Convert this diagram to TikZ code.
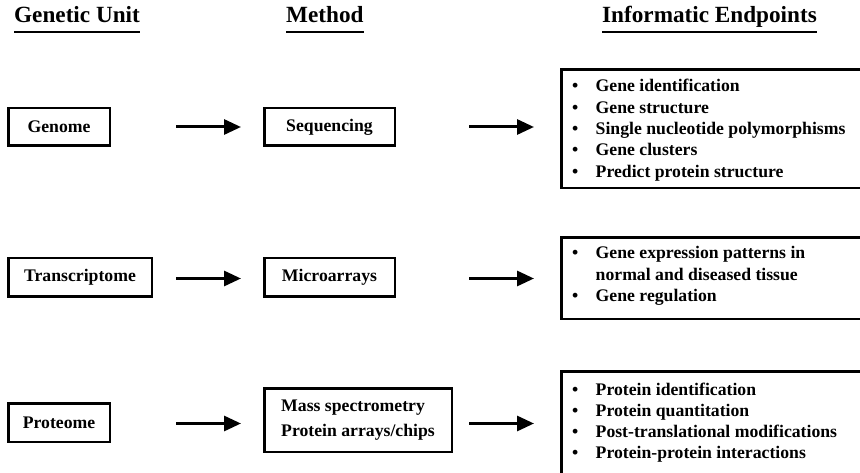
\documentclass[tikz,border=0pt]{standalone}
\usepackage{fontspec}
\setmainfont{Liberation Serif}
\usepackage{xcolor}
\usepackage{tikz}
\usetikzlibrary{arrows.meta}
\definecolor{Ink}{HTML}{000000}
\tikzset{
  unit/.style={
    draw=Ink, line width=2.5pt, inner sep=0pt,
    font=\bfseries\fontsize{17.7}{21.3}\selectfont
  },
  endbox/.style={draw=Ink,line width=2.5pt,inner sep=0pt,anchor=north west,minimum width=400pt},
  head/.style={font=\bfseries\fontsize{23.2}{28}\selectfont,inner sep=0pt,anchor=base west},
  uline/.style={line width=2.7pt,draw=Ink},
  arr/.style={-{Triangle[length=17pt,width=15pt]},line width=3pt,draw=Ink},
  list/.style={font=\bfseries\fontsize{17.7}{21.3}\selectfont,inner sep=0pt,anchor=base west}
}
\newcommand{\itm}[1]{\makebox[23.5pt][l]{\textbullet}#1}
\newcommand{\itmgap}{\hspace*{23.5pt}}

\begin{document}
\begin{tikzpicture}[x=1pt,y=-1pt]
  \useasboundingbox (0,0) rectangle (860,473);
  \clip (0,0) rectangle (860,473);
  % column heads
  \node[head] (hUnit) at (14,23) {Genetic Unit};
  \node[head] (hMeth) at (286,23) {Method};
  \node[head] (hEnd) at (602,23) {Informatic Endpoints};
  \foreach \h in {hUnit,hMeth,hEnd}
    \draw[uline] ([yshift=-9pt]\h.base west) -- ([yshift=-9pt]\h.base east);
  % genetic units
  \node[unit,minimum width=101.5pt,minimum height=37.5pt] (genome) at (59,127) {Genome};
  \node[unit,minimum width=143.5pt,minimum height=38.5pt] (trans) at (80,277.5) {Transcriptome};
  \node[unit,minimum width=101.5pt,minimum height=38.5pt] (prot) at (59,422.5) {Proteome};
  % methods
  \node[unit,minimum width=130.5pt,minimum height=37.5pt] (seq) at (329.5,127) {Sequencing};
  \node[unit,minimum width=130.5pt,minimum height=38.5pt] (micro) at (329.5,277.5) {Microarrays};
  \node[unit,minimum width=187.5pt,minimum height=63.5pt,align=left] (mass) at (358,420)
    {Mass spectrometry\\[3.7pt]Protein arrays/chips};
  % endpoints
  \node[endbox,minimum height=118.5pt] (ep1) at (560.25,68.25) {};
  \node[endbox,minimum height=81.5pt] (ep2) at (560.25,236.25) {};
  \node[endbox,minimum height=120pt] (ep3) at (560.25,370.25) {};
  \node[list] (ep1Txt) at (572,92) {\begin{tabular}[t]{@{}l@{}}
    \itm{Gene identification}\\
    \itm{Gene structure}\\
    \itm{Single nucleotide polymorphisms}\\
    \itm{Gene clusters}\\
    \itm{Predict protein structure}
  \end{tabular}};
  \node[list] (ep2Txt) at (572,259) {\begin{tabular}[t]{@{}l@{}}
    \itm{Gene expression patterns in}\\
    \itmgap normal and diseased tissue\\
    \itm{Gene regulation}
  \end{tabular}};
  \node[list] (ep3Txt) at (572,395) {\begin{tabular}[t]{@{}l@{}}
    \itm{Protein identification}\\
    \itm{Protein quantitation}\\
    \itm{Post-translational modifications}\\
    \itm{Protein-protein interactions}
  \end{tabular}};
  % arrows
  \foreach \y [count=\r] in {127,278.5,423.5} {
    \coordinate (uL\r) at (176,\y); \coordinate (uR\r) at (241,\y);
    \coordinate (mL\r) at (469,\y); \coordinate (mR\r) at (534,\y);
    \draw[arr] (uL\r) -- (uR\r);
    \draw[arr] (mL\r) -- (mR\r);
  }
\end{tikzpicture}
\end{document}
